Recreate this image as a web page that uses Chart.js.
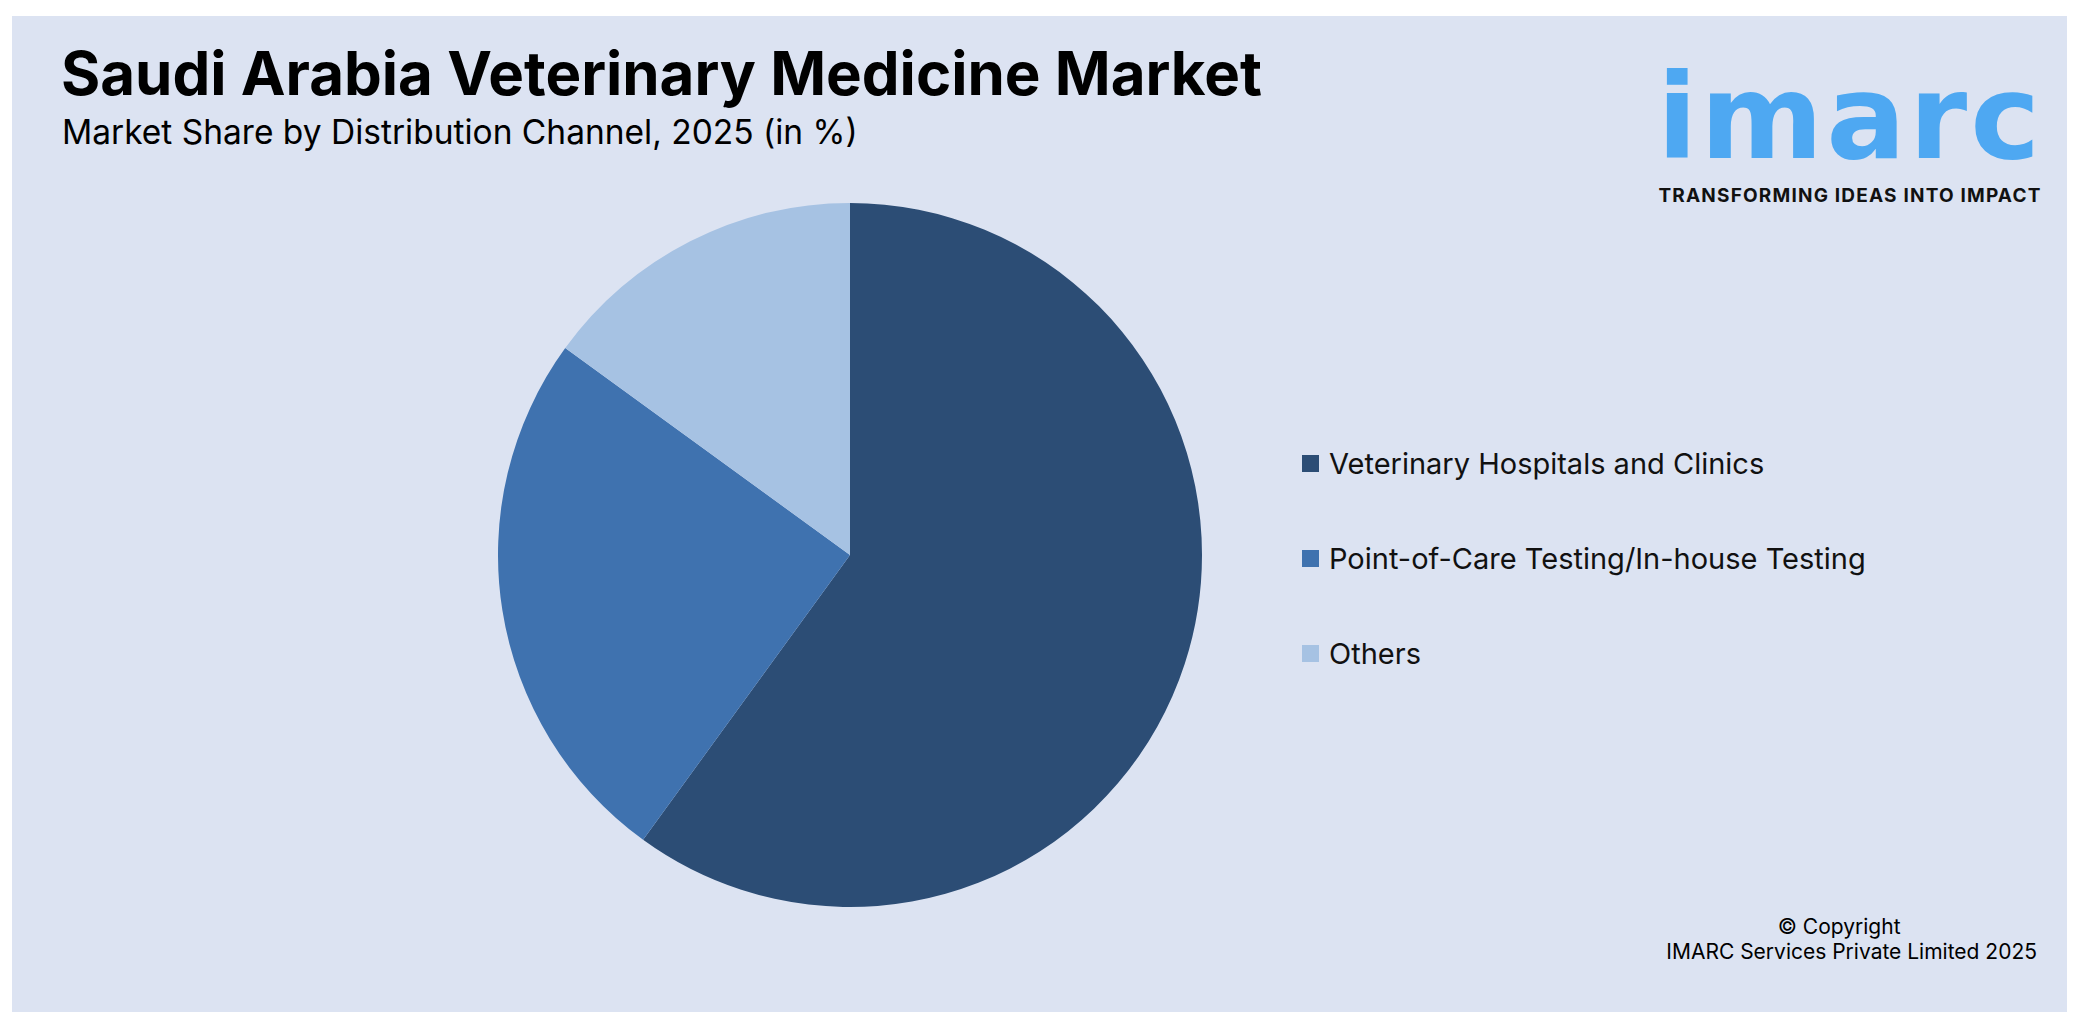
<!DOCTYPE html>
<html>
<head>
<meta charset="utf-8">
<script src="https://cdn.jsdelivr.net/npm/chart.js@4"></script>
<style>
  body { margin:0; width:2082px; height:1028px; background:#fff; font-family:Inter, "Open Sans", sans-serif; overflow:hidden; }
  #panel { position:absolute; left:12px; top:16px; width:2055px; height:996px; background:#dce3f2; }
  #title { position:absolute; left:61px; top:37px; font-size:60px; font-weight:700; color:#000; }
  #sub { position:absolute; left:62px; top:112px; font-size:33.5px; color:#000; }
  #logo { position:absolute; left:1640px; top:58px; width:420px; }
  #logo .word { font-size:118px; font-weight:700; color:#4ea8f2; letter-spacing:3px; line-height:1; font-family:"DejaVu Sans", sans-serif; text-align:center; }
  #logo .tag { font-size:19px; font-weight:700; color:#111; letter-spacing:1.2px; text-align:center; margin-top:8px; white-space:nowrap; }
  #chartBox { position:absolute; left:498px; top:203px; width:704px; height:704px; }
  #legend { position:absolute; left:1302px; top:416px; }
  .item { display:flex; align-items:center; height:95px; font-size:29px; color:#111; }
  .sw { width:17px; height:17px; margin-right:10px; }
  #copy { position:absolute; right:45px; top:914px; font-size:21px; color:#000; text-align:right; }
</style>
</head>
<body>
<div id="panel"></div>
<div id="title">Saudi Arabia Veterinary Medicine Market</div>
<div id="sub">Market Share by Distribution Channel, 2025 (in %)</div>
<div id="logo"><div class="word">imarc</div><div class="tag">TRANSFORMING IDEAS INTO IMPACT</div></div>
<div id="chartBox"><canvas id="pie"></canvas></div>
<div id="legend"></div>
<div id="copy"><div style="text-align:center;margin-right:25px">© Copyright</div><div>IMARC Services Private Limited 2025</div></div>
<script>
// Data
const channels = ['Veterinary Hospitals and Clinics', 'Point-of-Care Testing/In-house Testing', 'Others'];
const shares = [60, 25, 15];
const colors = ['#2c4d75', '#3f72af', '#a6c2e3'];

new Chart(document.getElementById('pie').getContext('2d'), {
    type: 'pie',
    data: {
        labels: channels,
        datasets: [{ data: shares, backgroundColor: colors, borderWidth: 0 }]
    },
    options: {
        responsive: true,
        maintainAspectRatio: false,
        animation: false,
        layout: { padding: 0 },
        plugins: { legend: { display: false }, tooltip: { enabled: false } }
    }
});

// Legend
const legend = document.getElementById('legend');
channels.forEach((name, i) => {
    const row = document.createElement('div');
    row.className = 'item';
    row.innerHTML = `<span class="sw" style="background:${colors[i]}"></span>${name}`;
    legend.appendChild(row);
});
</script>
</body>
</html>
